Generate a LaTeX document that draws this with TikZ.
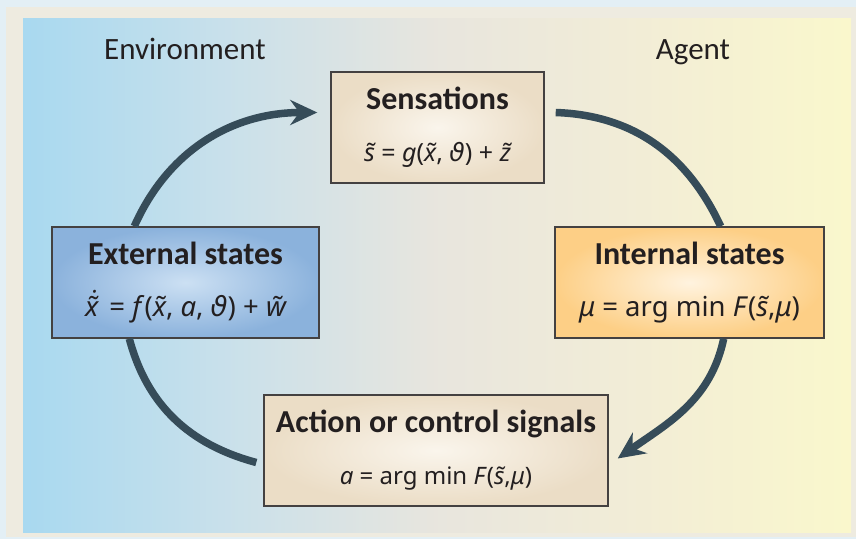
\documentclass[tikz,border=0pt]{standalone}
\usepackage{fontspec}
\setmainfont{Carlito}
\newfontfamily\eqfont{Noto Sans}
\newfontfamily\greekfont{DejaVu Sans}
\usetikzlibrary{arrows.meta,calc,positioning}
\definecolor{outerbg}{HTML}{E3EFF5}
\definecolor{framebg}{HTML}{EEEBE0}
\definecolor{beigeout}{HTML}{EBDDC6}
\definecolor{beigein}{HTML}{FAF5EC}
\definecolor{blueout}{HTML}{8BB2DC}
\definecolor{bluein}{HTML}{CCE0F3}
\definecolor{orangeout}{HTML}{FDCF86}
\definecolor{orangein}{HTML}{FFF3DF}
\definecolor{loopcol}{HTML}{364C59}
\definecolor{inkcol}{HTML}{231F20}
% the panel runs from 25bp to 75bp of this shading
\pgfdeclarehorizontalshading{envagent}{100bp}{
  rgb(0bp)=(0.66,0.85,0.94); rgb(25bp)=(0.66,0.85,0.94);
  rgb(37.5bp)=(0.79,0.88,0.92); rgb(50bp)=(0.91,0.90,0.87);
  rgb(62.5bp)=(0.95,0.93,0.84); rgb(75bp)=(0.98,0.97,0.80);
  rgb(100bp)=(0.98,0.97,0.80)}
\newcommand{\vth}{{\greekfont\itshape ϑ}}
\newcommand{\hd}[1]{{\fontsize{32}{52}\selectfont\bfseries #1}}
\newcommand{\eq}[2]{{\fontsize{#1}{52}\selectfont\eqfont #2}}

\begin{document}
\begin{tikzpicture}[x=1pt,y=1pt,>=Stealth,
  statebox/.style={draw=inkcol!85,line width=1.4pt,shading=radial,align=center,
    minimum height=111,inner sep=0pt,text=inkcol,font=\fontsize{26}{52}\selectfont},
  sidelabel/.style={anchor=base,text=inkcol,font=\fontsize{31}{36}\selectfont},
  looparrow/.style={draw=loopcol,line width=7.5pt,
    -{Stealth[length=27pt,width=25pt,inset=9pt]}},
  loopline/.style={draw=loopcol,line width=7.5pt}]
\useasboundingbox (0,0) rectangle (856,539);
\fill[outerbg] (0,0) rectangle (856,539);
\fill[framebg] (6,2) rectangle (856,532);
\shade[shading=envagent] (23,7) rectangle (851,520);
% side labels
\node[sidelabel] (env) at (185,479) {Environment};
\node[sidelabel] (agent) at (693,479) {Agent};
% the four states
\node[statebox,inner color=beigein,outer color=beigeout,minimum width=213] (sens) at (437.5,411.5)
  {\hd{Sensations}\\ \eq{25}{\textit{s̃} = \textit{g}(\textit{x̃}, \vth) + \textit{z̃}}};
\node[statebox,inner color=bluein,outer color=blueout,minimum width=267] (ext) at (185.5,256.5)
  {\hd{External states}\\ \eq{27.5}{\textit{x̃̇} = \textit{f}(\textit{x̃}, \textit{a}, \vth) + \textit{w̃}}};
\node[statebox,inner color=orangein,outer color=orangeout,minimum width=269] (int) at (689.5,256.5)
  {\hd{Internal states}\\ \eq{27.5}{\textit{μ} = arg min \textit{F}(\textit{s̃},\textit{μ})}};
\node[statebox,inner color=beigein,outer color=beigeout,minimum width=344] (act) at (436,88.5)
  {\hd{Action or control signals}\\ \eq{24}{\textit{a} = arg min \textit{F}(\textit{s̃},\textit{μ})}};
% loop
\draw[looparrow] ([xshift=83pt]ext.north west) to[out=66,in=180] ([xshift=-13pt,yshift=15pt]sens.west);
\draw[loopline] ([xshift=11pt,yshift=15pt]sens.east) to[out=-2,in=115] ([xshift=-104pt]int.north east);
\draw[looparrow] ([xshift=-101pt]int.south east) to[out=-102,in=35] ([xshift=9pt,yshift=-8pt]act.east);
\draw[loopline] ([xshift=-7pt,yshift=-12pt]act.west) to[out=165,in=-75] ([xshift=78pt]ext.south west);
\end{tikzpicture}
\end{document}
